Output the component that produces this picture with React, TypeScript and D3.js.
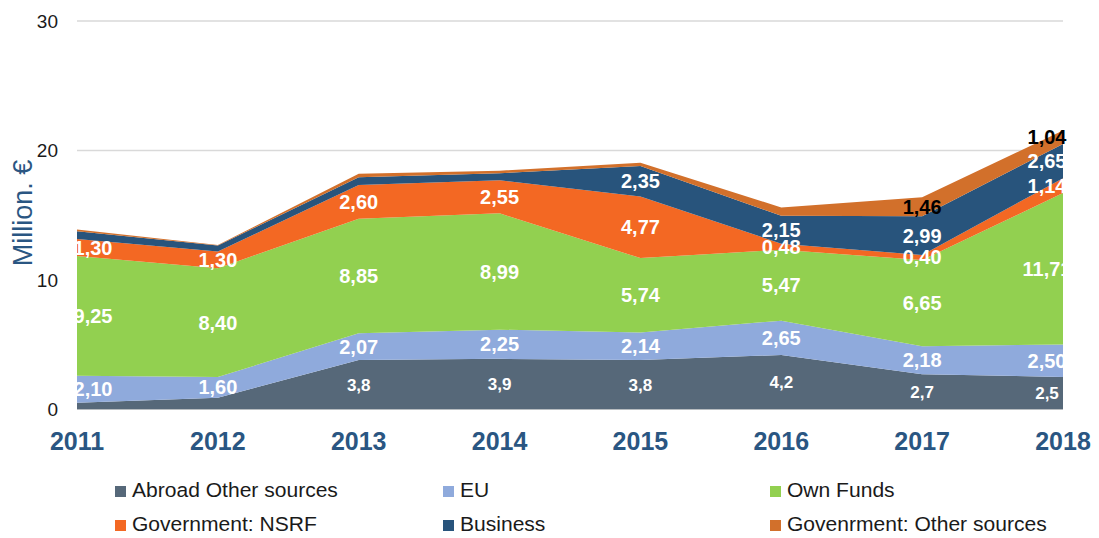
import React from 'react';
import * as d3 from 'd3';

// values in million €
const years = ['2011', '2012', '2013', '2014', '2015', '2016', '2017', '2018'];
const abroad = [0.5, 0.9, 3.8, 3.9, 3.8, 4.2, 2.7, 2.5];
const eu = [2.1, 1.6, 2.07, 2.25, 2.14, 2.65, 2.18, 2.5];
const ownFunds = [9.25, 8.4, 8.85, 8.99, 5.74, 5.47, 6.65, 11.71];
const nsrf = [1.3, 1.3, 2.6, 2.55, 4.77, 0.48, 0.4, 1.14];
const business = [0.6, 0.45, 0.6, 0.55, 2.35, 2.15, 2.99, 2.65];
const govOther = [0.15, 0.05, 0.28, 0.2, 0.25, 0.65, 1.46, 1.04];
const yTicks = [0, 10, 20, 30];

const series = [
  { key: 'abroad', name: 'Abroad Other sources', values: abroad, color: '#566879', decimals: 1, minLabel: 1, fontSize: 17, labelColor: '#fff' },
  { key: 'eu', name: 'EU', values: eu, color: '#8faadc', decimals: 2, minLabel: 0, fontSize: 20, labelColor: '#fff' },
  { key: 'own', name: 'Own Funds', values: ownFunds, color: '#92d050', decimals: 2, minLabel: 0, fontSize: 20, labelColor: '#fff' },
  { key: 'nsrf', name: 'Government: NSRF', values: nsrf, color: '#f36823', decimals: 2, minLabel: 0, fontSize: 20, labelColor: '#fff' },
  { key: 'business', name: 'Business', values: business, color: '#28547c', decimals: 2, minLabel: 1, fontSize: 20, labelColor: '#fff' },
  { key: 'govOther', name: 'Govenrment: Other sources', values: govOther, color: '#d2702b', decimals: 2, minLabel: 1, fontSize: 20, labelColor: '#000' },
];

const width = 1099;
const height = 538;
const left = 77;
const right = 1063;
const top = 21;
const bottom = 409.3;
const FONT = "'Liberation Sans', Arial, sans-serif";
const BLUE = '#2a5682';

const fmt = (v: number, d: number) => v.toFixed(d).replace('.', ',');

export default function App() {
  const table = years.map((y, i) => {
    const row: any = { year: y };
    series.forEach(s => { row[s.key] = s.values[i]; });
    return row;
  });

  const stacked = d3.stack().keys(series.map(s => s.key))(table);

  const x = d3.scalePoint().domain(years).range([left, right]);
  const y = d3.scaleLinear().domain([0, 30]).range([bottom, top]);

  const area = d3.area<any>()
    .x(d => x(d.data.year) as number)
    .y0(d => y(d[0]))
    .y1(d => y(d[1]));

  const legendCols = [115, 443, 770];
  const legendRows = [486, 520];

  // edge labels sit a bit inside the plot, like Excel does
  const labelX = (i: number) => {
    const px = x(years[i]) as number;
    if (i === 0) return px + 16;
    if (i === years.length - 1) return px - 16;
    return px;
  };

  return (
    <svg width={width} height={height} style={{ position: 'absolute', left: 0, top: 0 }} fontFamily={FONT}>
      <defs>
        <clipPath id="plot">
          <rect x={left} y={0} width={right - left} height={bottom + 1} />
        </clipPath>
      </defs>

      {yTicks.map(t => (
        <g key={t}>
          <line x1={left} x2={right} y1={y(t)} y2={y(t)} stroke="#d9d9d9" strokeWidth={1.5} />
          <text x={58} y={y(t)} dy="0.35em" textAnchor="end" fontSize={19} fill="#1a1a1a">{t}</text>
        </g>
      ))}

      {stacked.map((layer, li) => (
        <path key={layer.key} d={area(layer as any) || ''} fill={series[li].color} />
      ))}

      {stacked.map((layer, li) => {
        const s = series[li];
        return (
          <g key={'l' + layer.key} clipPath={s.labelColor === '#fff' ? 'url(#plot)' : undefined}>
            {layer.map((d, i) => {
              const v = s.values[i];
              if (v < s.minLabel) return null;
              return (
                <text key={i} x={labelX(i)} y={y((d[0] + d[1]) / 2)} dy="0.35em" textAnchor="middle"
                  fontSize={s.fontSize} fontWeight="bold" fill={s.labelColor}>
                  {fmt(v, s.decimals)}
                </text>
              );
            })}
          </g>
        );
      })}

      {years.map(yr => (
        <text key={yr} x={x(yr) as number} y={450} textAnchor="middle" fontSize={25} fontWeight="bold" fill={BLUE}>{yr}</text>
      ))}

      <text transform="translate(32,213) rotate(-90)" textAnchor="middle" fontSize={27} fill={BLUE}>Million. €</text>

      {series.map((s, i) => {
        const cx = legendCols[i % 3];
        const cy = legendRows[Math.floor(i / 3)];
        return (
          <g key={'lg' + s.key}>
            <rect x={cx} y={cy} width={11} height={11} fill={s.color} />
            <text transform={`translate(${cx + 17},${cy + 11}) scale(1.08,1)`} fontSize={19.5} fill="#1a1a1a">{s.name}</text>
          </g>
        );
      })}
    </svg>
  );
}
